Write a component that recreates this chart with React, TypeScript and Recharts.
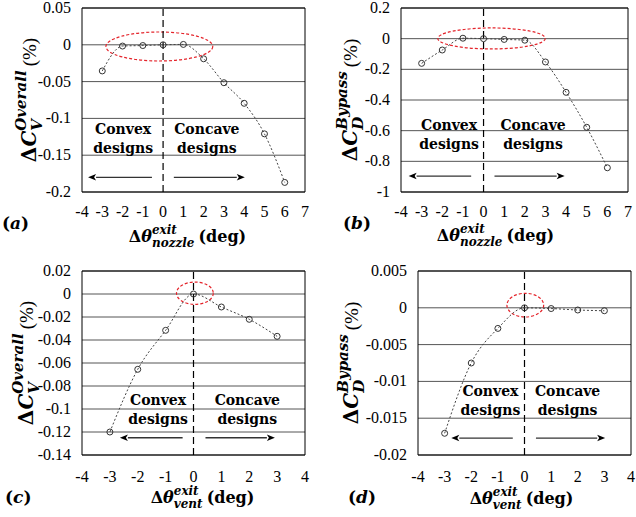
import React, { useLayoutEffect, useRef, useState } from 'react';
import {
	LineChart,
	Line,
	XAxis,
	YAxis,
	CartesianGrid,
	ReferenceLine,
	ReferenceArea,
	ReferenceDot,
} from 'recharts';

// nozzle exit angle sweep (a, b)
const nozzleAngles = [-3, -2, -1, 0, 1, 2, 3, 4, 5, 6];
const nozzleCvOverall = [-0.0355, -0.0017, -0.001, 0, 0.0005, -0.019, -0.0515, -0.0795, -0.121, -0.187];
const nozzleCdBypass = [-0.161, -0.074, 0.003, 0, -0.005, -0.01, -0.152, -0.35, -0.578, -0.842];

// vent exit angle sweep (c, d)
const ventAngles = [-3, -2, -1, 0, 1, 2, 3];
const ventCvOverall = [-0.12, -0.0655, -0.0316, 0, -0.0113, -0.022, -0.0368];
const ventCdBypass = [-0.01705, -0.0075, -0.0028, 0, -0.0001, -0.0003, -0.0004];

const nozzleXTicks = [-4, -3, -2, -1, 0, 1, 2, 3, 4, 5, 6, 7];
const ventXTicks = [-4, -3, -2, -1, 0, 1, 2, 3, 4];
const aYTicks = [0.05, 0, -0.05, -0.1, -0.15, -0.2];
const bYTicks = [0.2, 0, -0.2, -0.4, -0.6, -0.8, -1];
const cYTicks = [0.02, 0, -0.02, -0.04, -0.06, -0.08, -0.1, -0.12, -0.14];
const dYTicks = [0.005, 0, -0.005, -0.01, -0.015, -0.02];

const toRows = (xs: number[], ys: number[]) => xs.map((x, i) => ({ x, y: ys[i] }));

const MATH = { fontFamily: "'DejaVu Serif', serif" };
const TIMES = { fontFamily: "'Liberation Serif', serif" };

// Δ + head with stacked sub/superscript, then a tail like "(%)"
function MathTitle({ x, y, vertical, head, sub, sup, tail, tailStyle, size = 16, small = 12 }: any) {
	const subRef = useRef<SVGTSpanElement>(null);
	const supRef = useRef<SVGTSpanElement>(null);
	const [w, setW] = useState({ sub: 0, sup: 0 });
	useLayoutEffect(() => {
		const s = subRef.current ? subRef.current.getComputedTextLength() : 0;
		const p = supRef.current ? supRef.current.getComputedTextLength() : 0;
		if (Math.abs(s - w.sub) > 0.1 || Math.abs(p - w.sup) > 0.1) setW({ sub: s, sup: p });
	});
	const down = Math.round(small * 0.4);
	const up = Math.round(small * 0.65);
	return (
		<text
			x={x}
			y={y}
			transform={vertical ? `rotate(-90 ${x} ${y})` : undefined}
			textAnchor="middle"
			style={{ ...MATH, fontWeight: 'bold', fontSize: size }}
			fill="#000"
		>
			<tspan>Δ</tspan>
			<tspan style={{ fontStyle: 'italic' }}>{head}</tspan>
			<tspan ref={subRef} style={{ fontStyle: 'italic', fontSize: small }} dy={down}>
				{sub}
			</tspan>
			<tspan ref={supRef} style={{ fontStyle: 'italic', fontSize: small }} dx={-w.sub} dy={-down - up}>
				{sup}
			</tspan>
			<tspan dx={Math.max(0, w.sub - w.sup) + 4} dy={up} style={tailStyle}>
				{tail}
			</tspan>
		</text>
	);
}

const Ellipse = (p: any) => (
	<ellipse
		cx={p.x + p.width / 2}
		cy={p.y + p.height / 2}
		rx={Math.abs(p.width) / 2}
		ry={Math.abs(p.height) / 2}
		fill="none"
		stroke="#e4242b"
		strokeWidth={1.2}
		strokeDasharray="3 2"
	/>
);

const Arrow = (p: any) => {
	const dx = p.x2 - p.x1;
	const dy = p.y2 - p.y1;
	const len = Math.hypot(dx, dy) || 1;
	const ux = dx / len;
	const uy = dy / len;
	const bx = p.x2 - ux * 8;
	const by = p.y2 - uy * 8;
	return (
		<g>
			<line x1={p.x1} y1={p.y1} x2={bx} y2={by} stroke="#333" strokeWidth={1.3} />
			<path
				d={`M${p.x2},${p.y2} L${bx - uy * 3.2},${by + ux * 3.2} L${bx + ux * 2},${by + uy * 2} L${bx + uy * 3.2},${by - ux * 3.2} Z`}
				fill="#000"
			/>
		</g>
	);
};

const twoLines = (a: string, b: string) => (p: any) => (
	<text
		x={p.cx}
		y={p.cy}
		textAnchor="middle"
		style={{ ...MATH, fontWeight: 'bold', fontSize: 14 }}
		fill="#000"
	>
		<tspan x={p.cx} dy={-4}>
			{a}
		</tspan>
		<tspan x={p.cx} dy={19}>
			{b}
		</tspan>
	</text>
);

const XTick = (p: any) => (
	<text x={p.x} y={p.y} dy={11} textAnchor="middle" style={{ ...TIMES, fontSize: 16 }} fill="#000">
		{p.payload.value}
	</text>
);

const YTick = (p: any) => (
	<text x={p.x} y={p.y} dy={5} textAnchor="end" style={{ ...TIMES, fontSize: 16 }} fill="#000">
		{`${p.payload.value}`}
	</text>
);

type PanelProps = {
	left: number;
	top: number;
	width: number;
	height: number;
	plot: { l: number; r: number; t: number; b: number };
	rows: { x: number; y: number }[];
	xTicks: number[];
	yTicks: number[];
	ySub: string;
	ySup: string;
	xSub: string;
	letter: string;
	yTitleX: number;
	xTitleDx: number;
	xTitleDy: number;
	letterX: number;
	letterDy: number;
	xTickGap: number;
	ellipse: number[];
	convex: number[];
	concave: number[];
	arrowY: number;
	arrowL: number[];
	arrowR: number[];
};

function Panel(p: PanelProps) {
	const xMin = p.xTicks[0];
	const xMax = p.xTicks[p.xTicks.length - 1];
	const yMax = p.yTicks[0];
	const yMin = p.yTicks[p.yTicks.length - 1];
	return (
		<div style={{ position: 'absolute', left: p.left, top: p.top }}>
			<LineChart
				width={p.width}
				height={p.height}
				data={p.rows}
				margin={{ top: p.plot.t, right: p.width - p.plot.r, bottom: 0, left: 0 }}
			>
				<CartesianGrid horizontal vertical={false} stroke="#555" />
				<XAxis
					dataKey="x"
					type="number"
					domain={[xMin, xMax]}
					ticks={p.xTicks}
					interval={0}
					height={p.height - p.plot.b}
					axisLine={false}
					tickLine={false}
					tickSize={0}
					tickMargin={p.xTickGap}
					tick={<XTick />}
					label={(lp: any) => {
						const vb = lp.viewBox;
						return (
							<g>
								<MathTitle
									x={vb.x + vb.width / 2 + p.xTitleDx}
									y={vb.y + p.xTitleDy}
									head="θ"
									sub={p.xSub}
									sup="exit"
									tail="(deg)"
									tailStyle={{ fontWeight: 'bold' }}
								/>
								<text
									x={p.letterX}
									y={vb.y + p.letterDy}
									style={{ ...MATH, fontWeight: 'bold', fontSize: 17 }}
									fill="#000"
								>
									(<tspan style={{ fontStyle: 'italic' }}>{p.letter}</tspan>)
								</text>
							</g>
						);
					}}
				/>
				<YAxis
					type="number"
					domain={[yMin, yMax]}
					ticks={p.yTicks}
					interval={0}
					width={p.plot.l}
					axisLine={false}
					tickLine={false}
					tickSize={0}
					tickMargin={11}
					tick={<YTick />}
					label={(lp: any) => {
						const vb = lp.viewBox;
						return (
							<MathTitle
								x={p.yTitleX}
								y={vb.y + vb.height / 2}
								vertical
								head="C"
								sub={p.ySub}
								sup={p.ySup}
								tail="(%)"
								tailStyle={{ ...TIMES, fontWeight: 'normal', fontSize: 19 }}
								size={20}
								small={15}
							/>
						);
					}}
				/>
				<ReferenceArea x1={xMin} x2={xMax} y1={yMin} y2={yMax} fill="none" stroke="#000" strokeWidth={1} />
				<ReferenceLine x={0} stroke="#000" strokeWidth={1.2} strokeDasharray="7 4" />
				<Line
					dataKey="y"
					type="monotone"
					stroke="#444"
					strokeWidth={1}
					strokeDasharray="2 2"
					dot={{ r: 3, fill: 'none', stroke: '#333', strokeWidth: 1, strokeDasharray: 'none' }}
					isAnimationActive={false}
				/>
				<ReferenceArea
					x1={p.ellipse[0]}
					x2={p.ellipse[1]}
					y1={p.ellipse[2]}
					y2={p.ellipse[3]}
					shape={Ellipse}
				/>
				<ReferenceDot x={p.convex[0]} y={p.convex[1]} r={0} shape={twoLines('Convex', 'designs')} />
				<ReferenceDot x={p.concave[0]} y={p.concave[1]} r={0} shape={twoLines('Concave', 'designs')} />
				<ReferenceLine
					segment={[
						{ x: p.arrowL[0], y: p.arrowY },
						{ x: p.arrowL[1], y: p.arrowY },
					]}
					shape={Arrow}
				/>
				<ReferenceLine
					segment={[
						{ x: p.arrowR[0], y: p.arrowY },
						{ x: p.arrowR[1], y: p.arrowY },
					]}
					shape={Arrow}
				/>
			</LineChart>
		</div>
	);
}

export default function App() {
	return (
		<div
			style={{
				position: 'absolute',
				left: 0,
				top: 0,
				width: 636,
				height: 517,
				background: '#fff',
				overflow: 'hidden',
			}}
		>
			<Panel
				left={0}
				top={0}
				width={318}
				height={258}
				plot={{ l: 82, r: 305, t: 8, b: 192 }}
				rows={toRows(nozzleAngles, nozzleCvOverall)}
				xTicks={nozzleXTicks}
				yTicks={aYTicks}
				ySub="V"
				ySup="Overall"
				xSub="nozzle"
				letter="a"
				yTitleX={36}
				xTitleDx={-6}
				xTitleDy={50}
				letterX={2}
				letterDy={37}
				xTickGap={14}
				ellipse={[-2.82, 2.45, 0.0174, -0.022]}
				convex={[-1.97, -0.126]}
				concave={[2.16, -0.126]}
				arrowY={-0.18}
				arrowL={[-0.55, -3.7]}
				arrowR={[0.53, 4.03]}
			/>
			<Panel
				left={318}
				top={0}
				width={318}
				height={258}
				plot={{ l: 83, r: 310, t: 8, b: 192 }}
				rows={toRows(nozzleAngles, nozzleCdBypass)}
				xTicks={nozzleXTicks}
				yTicks={bYTicks}
				ySub="D"
				ySup="Bypass"
				xSub="nozzle"
				letter="b"
				yTitleX={39}
				xTitleDx={-19}
				xTitleDy={49}
				letterX={25}
				letterDy={37}
				xTickGap={14}
				ellipse={[-2.22, 2.99, 0.07, -0.067]}
				convex={[-1.67, -0.622]}
				concave={[2.4, -0.622]}
				arrowY={-0.896}
				arrowL={[-0.6, -3.63]}
				arrowR={[0.53, 3.93]}
			/>
			<Panel
				left={0}
				top={258}
				width={318}
				height={259}
				plot={{ l: 82, r: 305, t: 13, b: 197 }}
				rows={toRows(ventAngles, ventCvOverall)}
				xTicks={ventXTicks}
				yTicks={cYTicks}
				ySub="V"
				ySup="Overall"
				xSub="vent"
				letter="c"
				yTitleX={33}
				xTitleDx={9}
				xTitleDy={48}
				letterX={5}
				letterDy={48}
				xTickGap={16}
				ellipse={[-0.61, 0.71, 0.0104, -0.009]}
				convex={[-1.27, -0.0996]}
				concave={[1.93, -0.0996]}
				arrowY={-0.125}
				arrowL={[-0.39, -2.64]}
				arrowR={[0.43, 2.92]}
			/>
			<Panel
				left={318}
				top={258}
				width={318}
				height={259}
				plot={{ l: 100, r: 313, t: 13, b: 197 }}
				rows={toRows(ventAngles, ventCdBypass)}
				xTicks={ventXTicks}
				yTicks={dYTicks}
				ySub="D"
				ySup="Bypass"
				xSub="vent"
				letter="d"
				yTitleX={40}
				xTitleDx={-3}
				xTitleDy={49}
				letterX={30}
				letterDy={48}
				xTickGap={16}
				ellipse={[-0.66, 0.72, 0.00197, -0.00125]}
				convex={[-1.28, -0.0125]}
				concave={[1.62, -0.0125]}
				arrowY={-0.0177}
				arrowL={[-0.44, -2.75]}
				arrowR={[0.43, 3.03]}
			/>
		</div>
	);
}
